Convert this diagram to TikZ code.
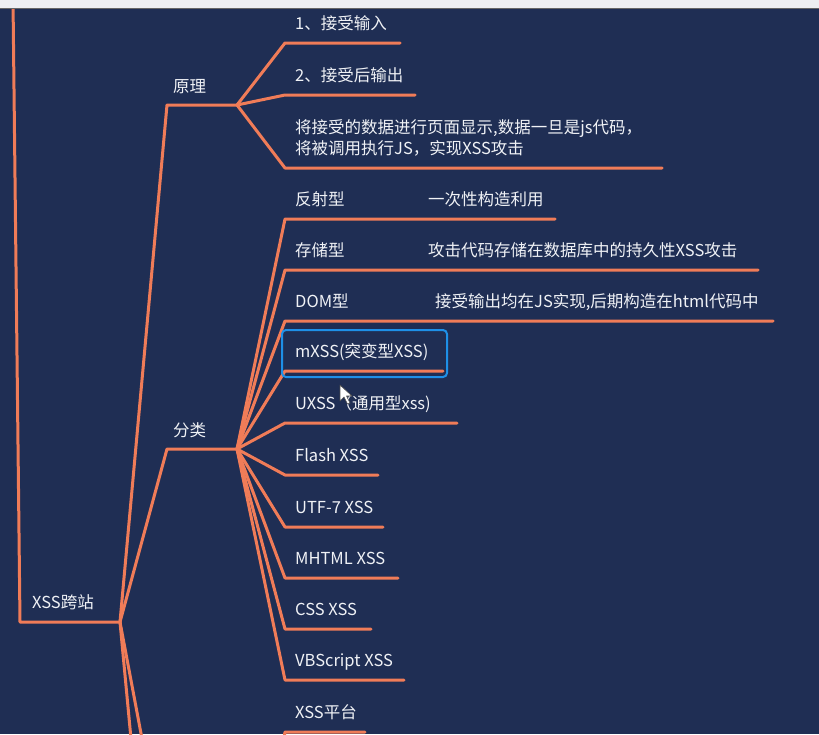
\documentclass[tikz,border=0pt]{standalone}
\usepackage{fontspec}
\setmainfont{Noto Sans CJK SC}
\definecolor{bgnavy}{RGB}{31,46,84}
\definecolor{branch}{RGB}{240,124,88}
\definecolor{txt}{RGB}{240,242,246}
\definecolor{selblue}{RGB}{30,144,232}
\definecolor{topbar}{RGB}{238,239,242}
\tikzset{
  topic/.style={anchor=south west, inner xsep=10pt, inner ysep=10pt, text height=12pt, text depth=3.5pt, text=txt, font=\fontsize{16.5}{21}\selectfont},
  desc/.style={anchor=base west, inner sep=0pt, text=txt, font=\fontsize{16.5}{21}\selectfont},
  link/.style={draw=branch, line width=3pt, line join=round, line cap=round},
  selbox/.style={draw=selblue, line width=2pt, rounded corners=4pt},
}
\begin{document}
\begin{tikzpicture}[x=1pt,y=-1pt]
\useasboundingbox (0,0) rectangle (819,734);
\fill[bgnavy] (0,0) rectangle (819,734);
\begin{scope}
\clip (0,0) rectangle (819,734);
% root
\node[topic, inner xsep=12pt] (root) at (20,622) {XSS跨站};
\coordinate (rootE) at (120,622);
\coordinate (rootUp) at (13,0);
\coordinate (offA) at (133,760);
\coordinate (offB) at (146,760);
% level 1
\node[topic, inner xsep=6pt, inner ysep=9pt] (yl) at (167,105) {原理};
\coordinate (ylE) at (237,105);
\node[topic, inner xsep=6pt, inner ysep=9pt] (fl) at (167,449) {分类};
\coordinate (flE) at (237,449);
% 原理 children
\node[topic] (a1) at (285,43) {1、接受输入};
\coordinate (a1E) at (400,43);
\node[topic] (a2) at (285,95) {2、接受后输出};
\coordinate (a2E) at (415,95);
\node[topic, align=left] (a3) at (285,168) {将接受的数据进行页面显示,数据一旦是js代码，\\将被调用执行JS，实现XSS攻击};
\coordinate (a3E) at (662,168);
% 分类 children
\node[topic] (b1) at (285,219) {反射型};
\coordinate (b1E) at (555,219);
\node[desc] (d1) at (428,205) {一次性构造利用};
\node[topic] (b2) at (285,270) {存储型};
\coordinate (b2E) at (758,270);
\node[desc] (d2) at (428,256) {攻击代码存储在数据库中的持久性XSS攻击};
\node[topic] (b3) at (285,321) {DOM型};
\coordinate (b3E) at (773,321);
\node[desc] (d3) at (435,307) {接受输出均在JS实现,后期构造在html代码中};
\node[topic] (b4) at (285,371) {mXSS(突变型XSS)};
\coordinate (b4E) at (443,371);
\node[topic] (b5) at (285,423) {UXSS（通用型xss)};
\coordinate (b5E) at (457,423);
\node[topic] (b6) at (285,475) {Flash XSS};
\coordinate (b6E) at (378,475);
\node[topic] (b7) at (285,527) {UTF-7 XSS};
\coordinate (b7E) at (383,527);
\node[topic] (b8) at (285,578) {MHTML XSS};
\coordinate (b8E) at (398,578);
\node[topic] (b9) at (285,629) {CSS XSS};
\coordinate (b9E) at (371,629);
\node[topic] (b10) at (285,680) {VBScript XSS};
\coordinate (b10E) at (404,680);
\node[topic] (c1) at (285,732) {XSS平台};
\coordinate (c1E) at (365,732);
\coordinate (c1Up) at (280,762);
% connectors
\draw[link] (rootUp) -- (root.south west) -- (rootE);
\draw[link] (rootE) -- (yl.south west) -- (ylE);
\draw[link] (rootE) -- (fl.south west) -- (flE);
\draw[link] (rootE) -- (offA);
\draw[link] (rootE) -- (offB);
\foreach \n in {a1,a2,a3}{
  \draw[link] (ylE) -- (\n.south west) -- (\n E);
}
\foreach \n in {b1,b2,b3,b4,b5,b6,b7,b8,b9,b10}{
  \draw[link] (flE) -- (\n.south west) -- (\n E);
}
\draw[link] (c1Up) -- (c1.south west) -- (c1E);
% selection box
\draw[selbox] ([shift={(-3,6)}]b4.south west) rectangle ([shift={(162,-41)}]b4.south west);
% mouse cursor
\filldraw[fill=white, draw=black!70, line width=0.6pt, line join=round]
  (340,385) -- (340,401) -- (344,397) -- (347.5,404) -- (350,403) -- (346.5,396) -- (352,396) -- cycle;
\end{scope}
% top bar
\fill[topbar] (0,0) rectangle (819,8);
\draw[black!60, line width=0.8pt] (0,8.4) -- (819,8.4);
\end{tikzpicture}
\end{document}
